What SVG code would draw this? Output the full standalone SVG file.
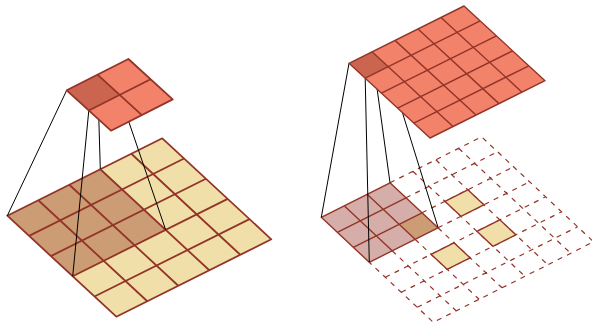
<svg xmlns="http://www.w3.org/2000/svg" width="592" height="325" viewBox="0 0 592 325">
<style>
.s{stroke:#933428;stroke-linejoin:round;fill:none;vector-effect:non-scaling-stroke}
.f{stroke:none}
.l{stroke:#000;stroke-width:1;fill:none}
.y{fill:#f1dfa9}.h{fill:#cc9c75}.t{fill:#f3826b}.d{fill:#cc6550}.p{fill:#d5aea9}
.w15{stroke-width:1.8}.w12{stroke-width:1.4}
.dash{stroke-dasharray:5 5.4;stroke-width:1.2}
</style>
<g id="left-input" transform="matrix(31 -15.48 21.8 20.2 7.3 215.7)">
<path class="f y" d="M0 0H5V5H0Z"/>
<path class="f h" d="M0 0H3V3H0Z"/>
<path class="s w15" d="M0 0H5V5H0ZM1 0V5M2 0V5M3 0V5M4 0V5M0 1H5M0 2H5M0 3H5M0 4H5"/>
</g>
<g id="right-input">
<g transform="matrix(22.9 -11.5 16 15 321.3 217.3)">
<path class="s dash" d="M3 0H7V7H0V3M4 0V7M5 0V7M6 0V7M3 1H7M3 2H7M3 3H7M0 4H7M0 5H7M0 6H7M1 3V7M2 3V7M3 3V7"/>
<path class="f p" d="M0 0H3V3H0Z"/>
<path class="f h" d="M2 2H3V3H2Z"/>
<path class="s w12" d="M0 0H3V3H0ZM1 0V3M2 0V3M0 1H3M0 2H3"/>
<path class="y s w12" d="M4 2H5V3H4ZM4 4H5V5H4ZM2 4H3V5H2Z"/>
</g>
</g>
<g id="connectors">
<path class="l" d="M66.7 90.3L7.3 215.7M88.8 110.5L72.7 276.3M97.5 74.6L100.3 169M119.7 95L165.7 230"/>
<path class="l" d="M349 63.3L321.3 217.3M365.2 78.2L369.3 262.3M372 51.8L390 182.7M388.2 66.7L438 227.3"/>
</g>
<g id="left-output" transform="matrix(30.85 -15.65 22.15 20.2 66.7 90.3)">
<path class="f t" d="M0 0H2V2H0Z"/>
<path class="f d" d="M0 0H1V1H0Z"/>
<path class="s w15" d="M0 0H2V2H0ZM1 0V2M0 1H2"/>
</g>
<g id="right-output" transform="matrix(23 -11.46 16.2 14.94 349 63.3)">
<path class="f t" d="M0 0H5V5H0Z"/>
<path class="f d" d="M0 0H1V1H0Z"/>
<path class="s w12" d="M0 0H5V5H0ZM1 0V5M2 0V5M3 0V5M4 0V5M0 1H5M0 2H5M0 3H5M0 4H5"/>
</g>
</svg>
